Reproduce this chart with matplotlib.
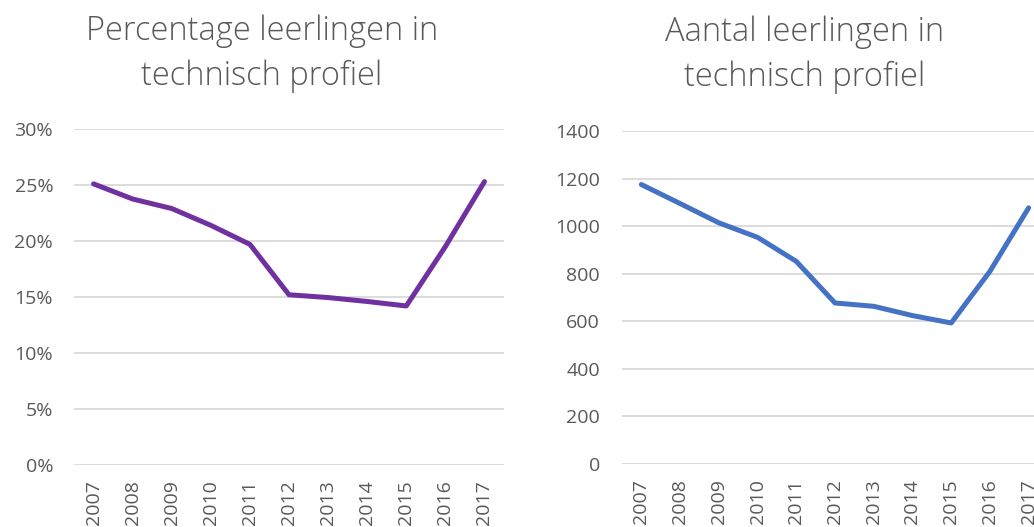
import numpy as np
import matplotlib.pyplot as plt
from matplotlib.ticker import PercentFormatter

jaren = ["2007", "2008", "2009", "2010", "2011", "2012", "2013", "2014", "2015", "2016", "2017"]
percentage = [0.251, 0.2375, 0.229, 0.214, 0.197, 0.152, 0.1495, 0.146, 0.142, 0.195, 0.253]
aantal = [1175, 1095, 1014, 953, 852, 677, 663, 624, 593, 810, 1077]

plt.rcParams['font.family'] = ['Open Sans', 'DejaVu Sans']
grijs = "#595959"

fig = plt.figure(figsize=(10.34, 5.27), dpi=100)

ax1 = fig.add_axes([74/1034, 62/527, 430/1034, 336/527])
ax2 = fig.add_axes([622/1034, 63/527, 426/1034, 333/527])

x = np.arange(len(jaren))

def opmaak(ax, ylim, stap, pad_y):
    ax.set_xlim(-0.5, len(jaren) - 0.5)
    ax.set_ylim(0, ylim)
    ax.set_yticks(np.arange(0, ylim + stap / 2, stap))
    ax.set_xticks(x)
    ax.set_xticklabels(jaren, rotation=90)
    ax.grid(axis="y", color="#d9d9d9", linewidth=1.3)
    ax.set_axisbelow(True)
    for s in ax.spines.values():
        s.set_visible(False)
    ax.tick_params(axis="y", length=0, pad=pad_y, labelsize=14, colors=grijs)
    ax.tick_params(axis="x", length=0, pad=11, labelsize=14, colors=grijs)

ax1.plot(x, percentage, color="#7030A0", linewidth=3.6, solid_capstyle="round")
opmaak(ax1, 0.30, 0.05, 15)
ax1.yaxis.set_major_formatter(PercentFormatter(1.0, decimals=0))

ax2.plot(x, aantal, color="#4472C4", linewidth=3.6, solid_capstyle="round")
opmaak(ax2, 1400, 200, 16)

fig.text(262/1034, 1 - 54/527, "Percentage leerlingen in\ntechnisch profiel", ha="center", va="center",
         fontsize=23.5, color=grijs, linespacing=1.45, fontweight="light")
fig.text(805/1034, 1 - 55/527, "Aantal leerlingen in\ntechnisch profiel", ha="center", va="center",
         fontsize=23.5, color=grijs, linespacing=1.45, fontweight="light")

fig.savefig("out.png", dpi=100)
